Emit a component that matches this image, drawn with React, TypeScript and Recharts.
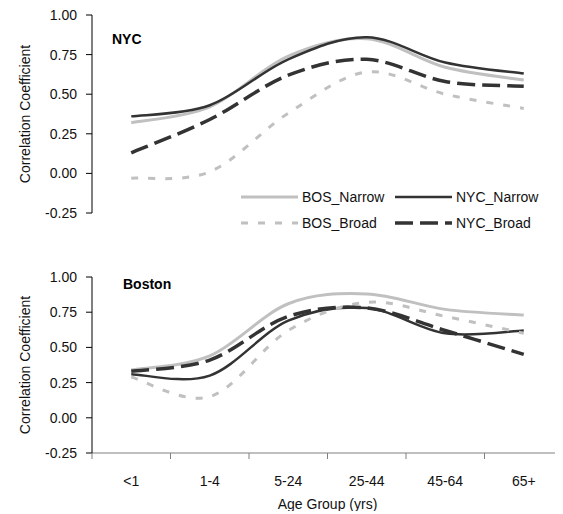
import React from "react";
import { LineChart, Line, XAxis, YAxis, Legend, Label } from "recharts";

const ages = ["<1", "1-4", "5-24", "25-44", "45-64", "65+"];

// NYC panel
const nycBosNarrow = [0.32, 0.42, 0.74, 0.85, 0.67, 0.59];
const nycNycNarrow = [0.36, 0.43, 0.72, 0.86, 0.7, 0.63];
const nycBosBroad = [-0.03, 0.01, 0.38, 0.64, 0.5, 0.41];
const nycNycBroad = [0.13, 0.34, 0.62, 0.72, 0.58, 0.55];

// Boston panel
const bosBosNarrow = [0.34, 0.44, 0.81, 0.88, 0.77, 0.73];
const bosNycNarrow = [0.31, 0.3, 0.69, 0.78, 0.6, 0.62];
const bosBosBroad = [0.29, 0.15, 0.62, 0.82, 0.72, 0.6];
const bosNycBroad = [0.33, 0.41, 0.72, 0.78, 0.62, 0.45];

const yTicks = [-0.25, 0, 0.25, 0.5, 0.75, 1];
const xTicks = [0, 0.5, 1, 1.5, 2, 2.5, 3, 3.5, 4, 4.5, 5, 5.5, 6];

const FONT = "'Liberation Sans', Arial, sans-serif";
const LIGHT = "#c0c0c0";
const DARK = "#333333";

const series = [
  { key: "BOS_Narrow", color: LIGHT, width: 3, dash: undefined },
  { key: "NYC_Narrow", color: DARK, width: 2.5, dash: undefined },
  { key: "BOS_Broad", color: LIGHT, width: 3, dash: "7 10" },
  { key: "NYC_Broad", color: DARK, width: 3.5, dash: "18 7" },
];

function buildRows(bn: number[], nn: number[], bb: number[], nb: number[]) {
  return ages.map((age, i) => ({
    x: i + 0.5,
    age,
    BOS_Narrow: bn[i],
    NYC_Narrow: nn[i],
    BOS_Broad: bb[i],
    NYC_Broad: nb[i],
  }));
}

const nycRows = buildRows(nycBosNarrow, nycNycNarrow, nycBosBroad, nycNycBroad);
const bosRows = buildRows(bosBosNarrow, bosNycNarrow, bosBosBroad, bosNycBroad);

// excel-like smoothed line
const smooth = (context: any) => {
  let pts: number[][] = [];
  return {
    areaStart() {},
    areaEnd() {},
    lineStart() {
      pts = [];
    },
    point(x: number, y: number) {
      pts.push([x, y]);
    },
    lineEnd() {
      const n = pts.length;
      if (!n) return;
      context.moveTo(pts[0][0], pts[0][1]);
      for (let i = 0; i < n - 1; i++) {
        const p0 = pts[Math.max(i - 1, 0)];
        const p1 = pts[i];
        const p2 = pts[i + 1];
        const p3 = pts[Math.min(i + 2, n - 1)];
        context.bezierCurveTo(
          p1[0] + (p2[0] - p0[0]) / 6,
          p1[1] + (p2[1] - p0[1]) / 6,
          p2[0] - (p3[0] - p1[0]) / 6,
          p2[1] - (p3[1] - p1[1]) / 6,
          p2[0],
          p2[1]
        );
      }
    },
  };
};

const TICK_SIZE = 6;
const TICK_MARGIN = 17;

const AgeTick = (props: any) => {
  const { x, y, payload } = props;
  const v = payload.value;
  if (Number.isInteger(v)) {
    const axisY = y - TICK_SIZE - TICK_MARGIN;
    return <line x1={x} x2={x} y1={axisY} y2={axisY + TICK_SIZE} stroke="#808080" />;
  }
  return (
    <text x={x} y={y} dy="0.71em" textAnchor="middle" fontSize={14} fontFamily={FONT} fill="#111">
      {ages[Math.floor(v)]}
    </text>
  );
};

const yLabel = (props: any) => {
  const vb = props.viewBox;
  const cx = 17;
  const cy = vb.y + vb.height / 2;
  return (
    <text
      x={cx}
      y={cy}
      dy="0.35em"
      textAnchor="middle"
      transform={`rotate(-90, ${cx}, ${cy})`}
      fontSize={14}
      fontFamily={FONT}
      fill="#111"
    >
      Correlation Coefficient
    </text>
  );
};

const LegendBox = () => {
  const cols = [3, 157];
  const rows = [11, 37];
  return (
    <svg width={325} height={50} style={{ overflow: "visible" }}>
      {series.map((s, i) => {
        const lx = cols[i % 2];
        const ly = rows[Math.floor(i / 2)];
        return (
          <g key={s.key}>
            <line
              x1={lx}
              x2={lx + 57}
              y1={ly}
              y2={ly}
              stroke={s.color}
              strokeWidth={s.width}
              strokeDasharray={s.dash}
            />
            <text x={lx + 61} y={ly} dy="0.35em" fontSize={14} fontFamily={FONT} fill="#111">
              {s.key}
            </text>
          </g>
        );
      })}
    </svg>
  );
};

const yAxisProps = {
  type: "number" as const,
  domain: [-0.25, 1],
  ticks: yTicks,
  width: 84,
  tickSize: 6,
  tickMargin: 9,
  interval: 0 as const,
  tickFormatter: (v: number) => v.toFixed(2),
  tick: { fontSize: 14, fontFamily: FONT, fill: "#111" },
  stroke: "#000",
};

function renderLines() {
  return series.map((s) => (
    <Line
      key={s.key}
      dataKey={s.key}
      type={smooth as any}
      stroke={s.color}
      strokeWidth={s.width}
      strokeDasharray={s.dash}
      dot={false}
      activeDot={false}
      isAnimationActive={false}
    />
  ));
}

export default function App() {
  return (
    <div style={{ position: "relative", width: 555, fontFamily: FONT }}>
      <LineChart width={555} height={240} data={nycRows} margin={{ top: 7, right: 0, bottom: 35, left: 0 }}>
        <XAxis dataKey="x" type="number" domain={[0, 6]} hide />
        <YAxis {...yAxisProps} label={yLabel} />
        <Legend
          layout="horizontal"
          verticalAlign="middle"
          align="center"
          content={() => <LegendBox />}
          wrapperStyle={{ left: 230, top: 178, width: 325, height: 50 }}
        />
        {renderLines()}
      </LineChart>
      <LineChart width={555} height={263} data={bosRows} margin={{ top: 29, right: 0, bottom: 0, left: 0 }}>
        <XAxis
          dataKey="x"
          type="number"
          domain={[0, 6]}
          ticks={xTicks}
          interval={0}
          height={58}
          tickSize={TICK_SIZE}
          tickMargin={TICK_MARGIN}
          tickLine={false}
          tick={AgeTick}
          stroke="#808080"
        >
          <Label value="Age Group (yrs)" position="insideBottom" offset={2} fontSize={14} fontFamily={FONT} fill="#111" />
        </XAxis>
        <YAxis {...yAxisProps} label={yLabel} />
        {renderLines()}
      </LineChart>
      <div style={{ position: "absolute", left: 104, top: 23, fontWeight: "bold", fontSize: 14, lineHeight: "16px" }}>
        NYC
      </div>
      <div style={{ position: "absolute", left: 115, top: 268, fontWeight: "bold", fontSize: 14, lineHeight: "16px" }}>
        Boston
      </div>
    </div>
  );
}
